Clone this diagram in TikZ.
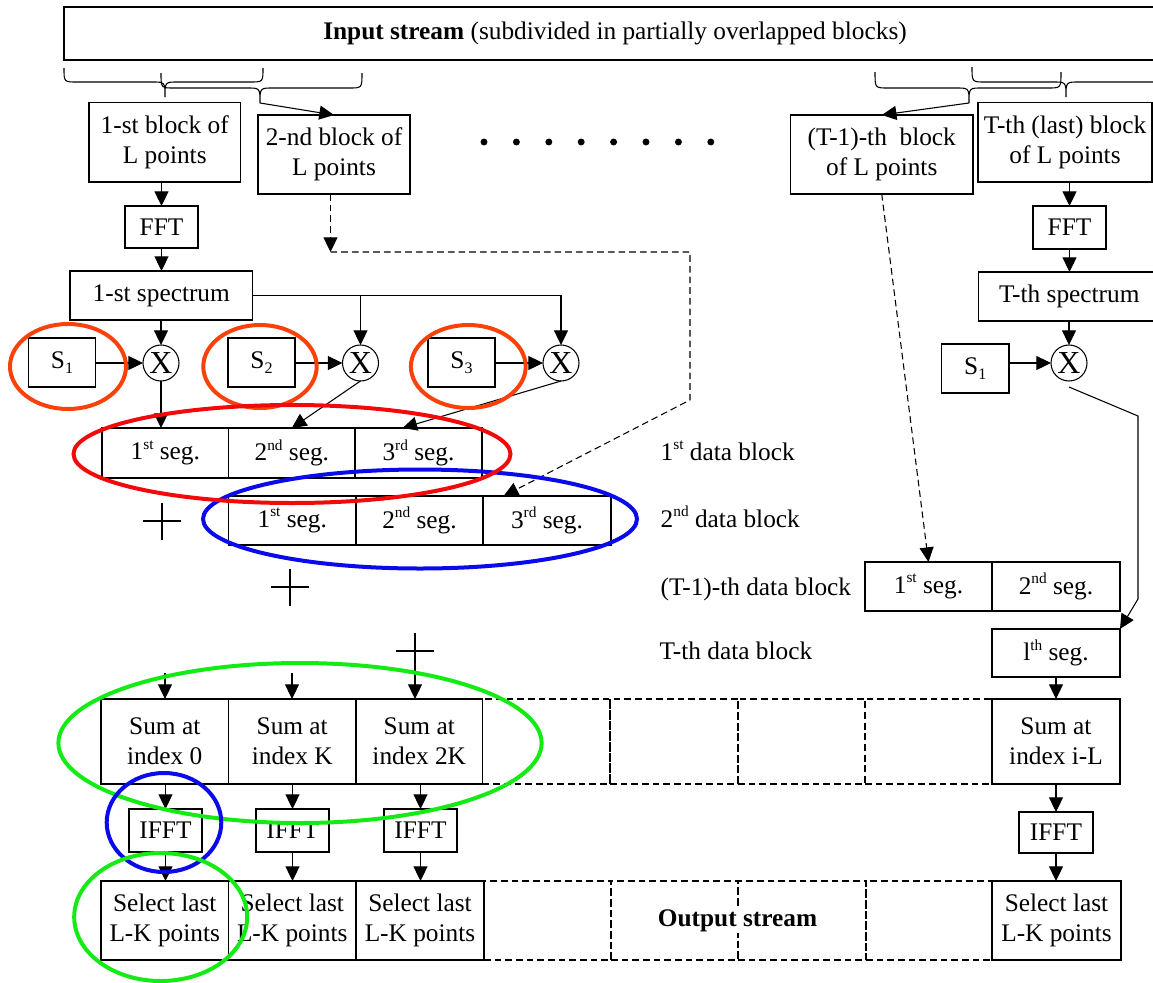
\documentclass[tikz,border=0pt]{standalone}
\usepackage{fontspec}
\setmainfont{Liberation Serif}
\usetikzlibrary{arrows.meta}
\newcommand\sups[1]{\raisebox{0.42em}{\fontsize{11.5}{12}\selectfont #1}}
\newcommand\subs[1]{\raisebox{-0.22em}{\fontsize{12}{12}\selectfont #1}}
\newcommand\hbrace[6]{%
  \draw[brace] (#1,#4) .. controls (#1,#5) .. (#1+13,#5) -- (#3-13,#5)
    .. controls (#3,#5) .. (#3,#6) .. controls (#3,#5) .. (#3+13,#5)
    -- (#2-13,#5) .. controls (#2,#5) .. (#2,#4);}
% \bx[style]{name}{x1}{y1}{x2}{y2}{text}
\newcommand\bx[7][box]{%
  \node[#1, minimum width={0.75pt*(#5-#3)}, minimum height={0.75pt*(#6-#4)}]
    (#2) at ({(#3+#5)/2},{(#4+#6)/2}) {#7};}
\definecolor{hlorange}{RGB}{250,65,10}
\definecolor{hlred}{RGB}{240,10,10}
\definecolor{hlblue}{RGB}{10,10,235}
\definecolor{hlgreen}{RGB}{20,235,20}
\begin{document}
\begin{tikzpicture}[x=0.75pt,y=-0.75pt,
  every node/.style={font=\fontsize{19}{22.5}\selectfont},
  box/.style={draw, line width=0.8pt, inner sep=0pt, outer sep=0pt, align=center},
  dbox/.style={draw, line width=0.8pt, dash pattern=on 5pt off 3pt, inner sep=0pt, outer sep=0pt},
  mult/.style={draw, circle, line width=0.8pt, minimum size=27pt, inner sep=0pt, outer sep=0pt, font=\fontsize{24}{24}\selectfont},
  arr/.style={line width=0.8pt, -{Triangle[length=11pt,width=10.5pt]}},
  darr/.style={line width=0.8pt, dash pattern=on 5pt off 3pt, -{Triangle[length=11pt,width=10.5pt]}},
  brace/.style={line width=0.8pt},
  hl/.style={line width=3pt},
  plusmark/.pic={\draw[line width=0.8pt] (-19,0) -- (19,0) (0,-18.5) -- (0,18.5);}
  ]
\useasboundingbox (0,0) rectangle (1153,982);

% input stream
\bx{in}{64}{7}{1166}{60}{\textbf{Input stream} (subdivided in partially overlapped blocks)}

% braces
\hbrace{64}{263}{165}{68}{82}{97}
\hbrace{161}{362}{260}{73}{88}{103}
\hbrace{875}{1061}{969}{72}{88}{103}
\hbrace{972}{1170}{1066}{67}{82}{97}
\coordinate (t2) at (260,103);
\coordinate (t3) at (969,103);

% block boxes
\bx{b1}{89}{102.5}{240.5}{182}{1-st block of\\L points}
\bx{b2}{258}{115}{410}{194}{2-nd block of\\L points}
\bx{bT1}{790.5}{115}{973}{194}{(T-1)-th\ \ block\\of L points}
\bx{bT}{978}{102.5}{1152}{182}{T-th (last) block\\of L points}

\draw[arr] (t2) -- (b2.north);
\draw[arr] (t3) -- (bT1.north);

% dots
\foreach \i in {0,...,7} \fill (484+32.4*\i,142) circle (2.6pt);

% left chain
\bx{fft1}{125}{206}{198}{248}{FFT}
\bx{sp1}{70}{271}{252.5}{320}{1-st spectrum}
\node[mult] (x1) at (161,363) {X};
\node[mult] (x2) at (360.5,363) {X};
\node[mult] (x3) at (561,363) {X};
\bx{s1}{28.5}{338}{95.5}{387}{S\subs{1}}
\bx{s2}{228}{338}{295}{387}{S\subs{2}}
\bx{s3}{428}{338}{495}{387}{S\subs{3}}

\draw[arr] (b1.south -| fft1.north) -- (fft1.north);
\draw[arr] (fft1.south) -- (fft1.south |- sp1.north);
\draw[arr] (sp1.south -| x1.north) -- (x1.north);
\draw[arr] (sp1.east) -| (x3.north);
\draw[arr] (sp1.east -| x2.north) -- (x2.north);
\draw[arr] (s1.east |- x1) -- (x1.west);
\draw[arr] (s2.east |- x2) -- (x2.west);
\draw[arr] (s3.east |- x3) -- (x3.west);

% right chain
\bx{fftT}{1033}{206}{1106}{249}{FFT}
\bx{spT}{978.5}{272}{1160}{321}{T-th spectrum}
\node[mult] (xT) at (1069,363) {X};
\bx{sT}{941.5}{344}{1009}{393}{S\subs{1}}
\draw[arr] (bT.south -| fftT.north) -- (fftT.north);
\draw[arr] (fftT.south) -- (fftT.south |- spT.north);
\draw[arr] (spT.south -| xT.north) -- (xT.north);
\draw[arr] (sT.east |- xT) -- (xT.west);

% data block rows
\bx{a1}{102}{428}{228.6}{478}{1\sups{st} seg.}
\bx{a2}{228.6}{428}{355}{478}{2\sups{nd} seg.}
\bx{a3}{355}{428}{482}{478}{3\sups{rd} seg.}
\bx{c1}{228.5}{496}{356}{545}{1\sups{st} seg.}
\bx{c2}{356}{496}{483}{545}{2\sups{nd} seg.}
\bx{c3}{483}{496}{611}{545}{3\sups{rd} seg.}
\bx{d1}{865}{562}{992}{611}{1\sups{st} seg.}
\bx{d2}{992}{562}{1120}{611}{2\sups{nd} seg.}
\bx{lth}{992}{629}{1120}{677}{l\sups{th} seg.}

\node[anchor=base west] (lab1) at (656,460) {1\sups{st} data block};
\node[anchor=base west] (lab2) at (656,527) {2\sups{nd} data block};
\node[anchor=base west] (lab3) at (656,595) {(T-1)-th data block};
\node[anchor=base west] (lab4) at (655,659) {T-th data block};

\draw[arr] (x1.south) -- (x1.south |- a1.north);
\draw[arr] (x2.south) -- (a2.north);
\draw[arr] (x3.south) -- ([xshift=-12pt]a3.north);

% dashed path from 2nd block
\coordinate (k1) at (330.5,252);
\coordinate (k2) at (690,252);
\coordinate (k3) at (690,400);
\draw[darr] (b2.south -| k1) -- (k1);
\draw[darr] (k1) -- (k2) -- (k3) -- ([xshift=15.5pt]c3.north west);
\draw[darr] (bT1.south) -- (d1.north);

% T-th path
\coordinate (m1) at (1138,416);
\coordinate (m2) at (1138,599);
\draw[arr] ([yshift=-4.5pt]xT.south) -- (m1) -- (m2) -- (lth.north east);

% plus signs
\coordinate (pl1) at (162,521);
\coordinate (pl2) at (290,587);
\coordinate (pl3) at (415,651);
\pic at (pl1) {plusmark};
\pic at (pl2) {plusmark};
\pic at (pl3) {plusmark};

% sum row
\bx{e1}{101}{699}{228.5}{784}{Sum at\\index 0}
\bx{e2}{228.5}{699}{356}{784}{Sum at\\index K}
\bx{e3}{356}{699}{482.5}{784}{Sum at\\index 2K}
\bx[dbox]{ed1}{482.5}{699}{610}{784}{}
\bx[dbox]{ed2}{610}{699}{738}{784}{}
\bx[dbox]{ed3}{738}{699}{865}{784}{}
\bx[dbox]{ed4}{865}{699}{992}{784}{}
\bx{eL}{992}{699}{1120}{784}{Sum at\\index i-L}

\coordinate (u1) at (165,673);
\coordinate (u2) at (292,673);
\draw[arr] (u1) -- (u1 |- e1.north);
\draw[arr] (u2) -- (u2 |- e2.north);
\draw[arr] (pl3) -- (pl3 |- e3.north);
\draw[arr] (lth.south) -- (lth.south |- eL.north);

% IFFT row
\bx{f1}{129}{809}{202}{852}{IFFT}
\bx{f2}{256}{809}{329}{852}{IFFT}
\bx{f3}{384}{809}{457}{852}{IFFT}
\bx{fL}{1019}{812}{1093}{853}{IFFT}
\draw[arr] (e1.south -| f1.north) -- (f1.north);
\draw[arr] (e2.south -| f2.north) -- (f2.north);
\draw[arr] (e3.south -| f3.north) -- (f3.north);
\draw[arr] (eL.south -| fL.north) -- (fL.north);

% select row
\bx{g1}{101}{881}{228.5}{960}{Select last\\L-K points}
\bx{g2}{228.5}{881}{356}{960}{Select last\\L-K points}
\bx{g3}{356}{881}{484}{960}{Select last\\L-K points}
\bx[dbox]{gd1}{484}{881}{611}{960}{}
\bx[dbox]{gd2}{611}{881}{738}{960}{}
\bx[dbox]{gd3}{738}{881}{866}{960}{}
\bx[dbox]{gd4}{866}{881}{992}{960}{}
\bx{gL}{992}{881}{1121}{960}{Select last\\L-K points}
\node[fill=white, inner sep=1pt] (out) at (737.5,921) {\textbf{Output stream}};
\draw[arr] (f1.south) -- (f1.south |- g1.north);
\draw[arr] (f2.south) -- (f2.south |- g2.north);
\draw[arr] (f3.south) -- (f3.south |- g3.north);
\draw[arr] (fL.south) -- (fL.south |- gL.north);

% highlight ellipses
\draw[hl, hlorange] (68,366.5) ellipse [x radius=58, y radius=42.5];
\draw[hl, hlorange] (260,366.5) ellipse [x radius=56.7, y radius=41.5];
\draw[hl, hlorange] (468.3,366.5) ellipse [x radius=57.4, y radius=41.5];
\draw[hl, hlblue] (420,519) ellipse [x radius=217, y radius=49.5];
\draw[hl, hlred] (292,454) ellipse [x radius=218.5, y radius=49];
\draw[hl, hlgreen] (300,743) ellipse [x radius=241.6, y radius=80];
\draw[hl, hlblue] (164,822.5) ellipse [x radius=57.3, y radius=49.5];
\draw[hl, hlgreen] (160.7,917) ellipse [x radius=86.5, y radius=64];
\end{tikzpicture}
\end{document}
